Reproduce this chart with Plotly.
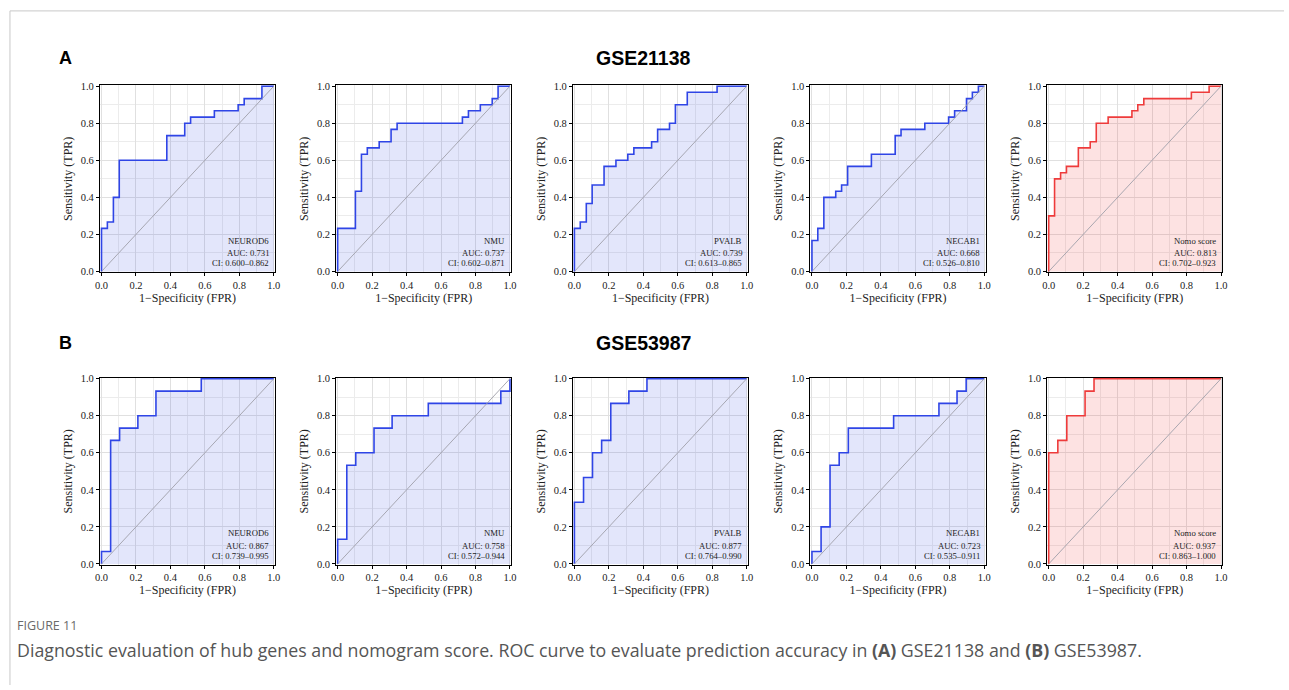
import plotly.graph_objects as go

W, H = 1289, 690

# ---------------- data (ROC step corners) ----------------
genes = ["NEUROD6", "NMU", "PVALB", "NECAB1", "Nomo score"]

# GSE21138
a_neurod6_fpr = [0, 0, 0.034, 0.069, 0.103, 0.379, 0.483, 0.517, 0.655, 0.793, 0.828, 0.931, 1.0]
a_neurod6_tpr = [0, 0.233, 0.267, 0.400, 0.600, 0.733, 0.800, 0.833, 0.867, 0.900, 0.933, 1.0, 1.0]
a_nmu_fpr = [0, 0, 0.103, 0.138, 0.172, 0.241, 0.310, 0.345, 0.724, 0.759, 0.828, 0.897, 0.931, 1.0]
a_nmu_tpr = [0, 0.233, 0.433, 0.633, 0.667, 0.700, 0.767, 0.800, 0.833, 0.867, 0.900, 0.933, 1.0, 1.0]
a_pvalb_fpr = [0, 0, 0.034, 0.069, 0.103, 0.172, 0.241, 0.310, 0.345, 0.448, 0.483, 0.552, 0.586, 0.655, 0.828, 1.0]
a_pvalb_tpr = [0, 0.233, 0.267, 0.367, 0.467, 0.567, 0.600, 0.633, 0.667, 0.700, 0.767, 0.800, 0.900, 0.967, 1.0, 1.0]
a_necab1_fpr = [0, 0, 0.034, 0.069, 0.138, 0.172, 0.207, 0.345, 0.483, 0.517, 0.655, 0.793, 0.828, 0.897, 0.931, 0.966, 1.0]
a_necab1_tpr = [0, 0.167, 0.233, 0.400, 0.433, 0.467, 0.567, 0.633, 0.733, 0.767, 0.800, 0.833, 0.867, 0.933, 0.967, 1.0, 1.0]
a_nomo_fpr = [0, 0, 0.034, 0.069, 0.103, 0.172, 0.241, 0.276, 0.345, 0.483, 0.517, 0.552, 0.828, 0.931, 1.0]
a_nomo_tpr = [0, 0.300, 0.500, 0.533, 0.567, 0.667, 0.700, 0.800, 0.833, 0.867, 0.900, 0.933, 0.967, 1.0, 1.0]

# GSE53987
b_neurod6_fpr = [0, 0, 0.053, 0.105, 0.211, 0.316, 0.579, 1.0]
b_neurod6_tpr = [0, 0.067, 0.667, 0.733, 0.800, 0.933, 1.0, 1.0]
b_nmu_fpr = [0, 0, 0.053, 0.105, 0.211, 0.316, 0.526, 0.947, 1.0]
b_nmu_tpr = [0, 0.133, 0.533, 0.600, 0.733, 0.800, 0.867, 0.933, 1.0]
b_pvalb_fpr = [0, 0, 0.053, 0.105, 0.158, 0.211, 0.316, 0.421, 1.0]
b_pvalb_tpr = [0, 0.333, 0.467, 0.600, 0.667, 0.867, 0.933, 1.0, 1.0]
b_necab1_fpr = [0, 0, 0.053, 0.105, 0.158, 0.211, 0.474, 0.737, 0.842, 0.895, 1.0]
b_necab1_tpr = [0, 0.067, 0.200, 0.533, 0.600, 0.733, 0.800, 0.867, 0.933, 1.0, 1.0]
b_nomo_fpr = [0, 0, 0.053, 0.105, 0.211, 0.263, 1.0]
b_nomo_tpr = [0, 0.600, 0.667, 0.800, 0.933, 1.0, 1.0]

a_auc = ["0.731", "0.737", "0.739", "0.668", "0.813"]
a_ci = ["0.600–0.862", "0.602–0.871", "0.613–0.865", "0.526–0.810", "0.702–0.923"]
b_auc = ["0.867", "0.758", "0.877", "0.723", "0.937"]
b_ci = ["0.739–0.995", "0.572–0.944", "0.764–0.990", "0.535–0.911", "0.863–1.000"]

rows = [
    dict(label="A", title="GSE21138",
         fpr=[a_neurod6_fpr, a_nmu_fpr, a_pvalb_fpr, a_necab1_fpr, a_nomo_fpr],
         tpr=[a_neurod6_tpr, a_nmu_tpr, a_pvalb_tpr, a_necab1_tpr, a_nomo_tpr],
         auc=a_auc, ci=a_ci),
    dict(label="B", title="GSE53987",
         fpr=[b_neurod6_fpr, b_nmu_fpr, b_pvalb_fpr, b_necab1_fpr, b_nomo_fpr],
         tpr=[b_neurod6_tpr, b_nmu_tpr, b_pvalb_tpr, b_necab1_tpr, b_nomo_tpr],
         auc=b_auc, ci=b_ci),
]

# ---------------- layout geometry (pixels) ----------------
col_left = [95.7, 333.7, 572.3, 811.7, 1050.3]
box_w = 176.6
row_top = [82.3, 378.7]
row_bot = [272.0, 568.3]

BLUE = "#2f45e6"
BLUE_FILL = "rgba(65,85,225,0.15)"
RED = "#ee3b3b"
RED_FILL = "rgba(240,60,60,0.15)"
SERIF = "Liberation Serif, Times New Roman, serif"

fig = go.Figure()
layout_axes = {}
annotations = []

k = 0
for r, row in enumerate(rows):
    for c in range(5):
        k += 1
        xa = "x" if k == 1 else f"x{k}"
        ya = "y" if k == 1 else f"y{k}"
        xkey = "xaxis" if k == 1 else f"xaxis{k}"
        ykey = "yaxis" if k == 1 else f"yaxis{k}"
        is_nomo = (c == 4)
        lc = RED if is_nomo else BLUE
        fc = RED_FILL if is_nomo else BLUE_FILL
        fig.add_trace(go.Scatter(x=row["fpr"][c], y=row["tpr"][c], mode="lines",
                                 line=dict(color=lc, width=1.6, shape="hv"),
                                 fill="tozeroy", fillcolor=fc,
                                 xaxis=xa, yaxis=ya, showlegend=False, hoverinfo="skip"))
        fig.add_trace(go.Scatter(x=[0, 1], y=[0, 1], mode="lines",
                                 line=dict(color="rgba(160,160,170,0.9)", width=1),
                                 xaxis=xa, yaxis=ya, showlegend=False, hoverinfo="skip"))
        x0 = col_left[c] / W
        x1 = (col_left[c] + box_w) / W
        y0 = 1 - row_bot[r] / H
        y1 = 1 - row_top[r] / H
        common = dict(showline=True, linecolor="black", linewidth=1, mirror=True,
                      ticks="outside", ticklen=3, tickcolor="black", tickwidth=1,
                      showgrid=True, gridcolor="#e0e0e0", gridwidth=1,
                      minor=dict(dtick=0.1, showgrid=True, gridcolor="#ececec", gridwidth=1, ticks=""),
                      tick0=0, dtick=0.2, tickformat=".1f", zeroline=False,
                      tickfont=dict(family=SERIF, size=10.5, color="#222"),
                      fixedrange=True)
        layout_axes[xkey] = dict(common, domain=[x0, x1], range=[-0.009, 1.008], anchor=ya,
                                 title=dict(text="1−Specificity (FPR)", standoff=3,
                                            font=dict(family=SERIF, size=12, color="#222")))
        layout_axes[ykey] = dict(common, domain=[y0, y1], range=[-0.005, 1.005], anchor=xa,
                                 title=dict(text="Sensitivity (TPR)", standoff=5,
                                            font=dict(family=SERIF, size=12, color="#222")))
        lines = [genes[c], f"AUC: {row['auc'][c]}", f"CI: {row['ci'][c]}"]
        for i, t in enumerate(lines):
            annotations.append(dict(text=t, x=0.985, y=[0.165, 0.099, 0.044][i],
                                    xref=xa, yref=ya, xanchor="right", yanchor="middle",
                                    showarrow=False,
                                    font=dict(family=SERIF, size=8.7, color="#222")))
    ty = [55, 343][r]
    annotations.append(dict(text=f"<b>{row['label']}</b>", x=52 / W, y=1 - ty / H,
                            xref="paper", yref="paper", xanchor="left", yanchor="middle",
                            showarrow=False, font=dict(family="Liberation Sans, Arial", size=18, color="black")))
    annotations.append(dict(text=f"<b>{row['title']}</b>", x=643 / W, y=1 - ty / H,
                            xref="paper", yref="paper", xanchor="center", yanchor="middle",
                            showarrow=False, font=dict(family="Liberation Sans, Arial", size=19.5, color="black")))

# caption
annotations.append(dict(text="FIGURE 11", x=10 / W, y=1 - 630 / H, xref="paper", yref="paper",
                        xanchor="left", yanchor="middle", showarrow=False,
                        font=dict(family="Open Sans, Noto Sans, sans-serif", size=12.5, color="#6a6a6a")))
annotations.append(dict(text="Diagnostic evaluation of hub genes and nomogram score. ROC curve to evaluate prediction accuracy in "
                             "<b>(A)</b> GSE21138 and <b>(B)</b> GSE53987.",
                        x=10 / W, y=1 - 655 / H, xref="paper", yref="paper",
                        xanchor="left", yanchor="middle", showarrow=False,
                        font=dict(family="Open Sans, Noto Sans, sans-serif", size=17.8, color="#555555")))

shapes = [
    dict(type="line", xref="paper", yref="paper", x0=5 / W, x1=1.0, y0=1 - 7 / H, y1=1 - 7 / H,
         line=dict(color="#c8c8c8", width=1)),
    dict(type="line", xref="paper", yref="paper", x0=5 / W, x1=5 / W, y0=0, y1=1 - 7 / H,
         line=dict(color="#c8c8c8", width=1)),
]

fig.update_layout(width=W, height=H, margin=dict(l=0, r=0, t=0, b=0),
                  paper_bgcolor="white", plot_bgcolor="white",
                  annotations=annotations, shapes=shapes, **layout_axes)

fig.write_html("out.html", config={"displayModeBar": False},
               post_script="document.body.style.margin='0';document.body.style.overflow='hidden';")
